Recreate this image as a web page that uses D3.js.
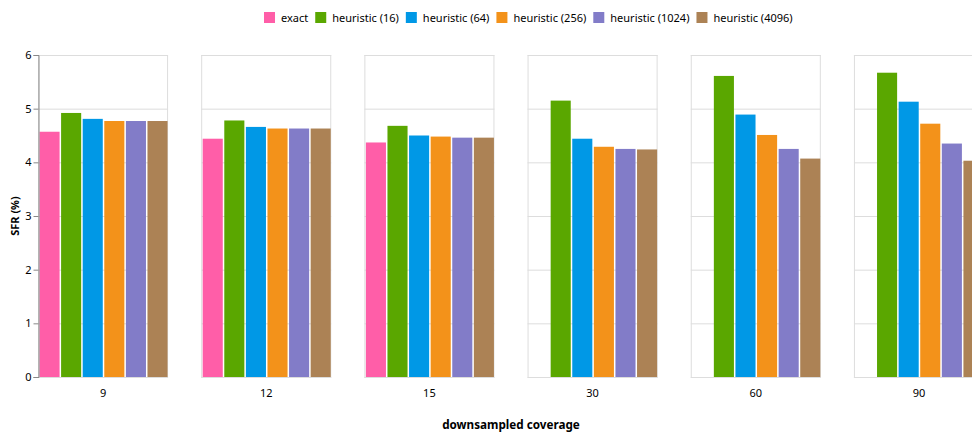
<!DOCTYPE html>
<html><head><meta charset="utf-8">
<script src="https://cdn.jsdelivr.net/npm/d3@7"></script>
<style>body{margin:0;background:#fff}svg{display:block;font-family:"Noto Sans","Open Sans",sans-serif}</style>
</head><body><svg id="c" width="972" height="432"></svg>
<script>
const coverages = ["9","12","15","30","60","90"];
const seriesNames = ["exact","heuristic (16)","heuristic (64)","heuristic (256)","heuristic (1024)","heuristic (4096)"];
const colors = ["#ff5ea8","#5aa700","#0098e6","#f3921a","#827cc8","#ac8255"];
const exact =      [4.57, 4.44, 4.37, null, null, null];
const heur16 =     [4.92, 4.78, 4.68, 5.15, 5.61, 5.67];
const heur64 =     [4.81, 4.66, 4.50, 4.44, 4.89, 5.13];
const heur256 =    [4.77, 4.63, 4.48, 4.29, 4.51, 4.72];
const heur1024 =   [4.77, 4.63, 4.46, 4.25, 4.25, 4.35];
const heur4096 =   [4.77, 4.63, 4.46, 4.24, 4.07, 4.03];
const yTicks = [0,1,2,3,4,5,6];
const seriesValues = [exact, heur16, heur64, heur256, heur1024, heur4096];

(function(){
const svg = d3.select("#c");
const plotTop = 55, plotBottom = 377;
const y = d3.scaleLinear().domain([0,6]).range([plotBottom, plotTop]);
const fx = d3.scaleBand().domain(coverages).range([38, 984]).paddingInner(0.203);
const bw = fx.bandwidth();
const xi = d3.scaleBand().domain(seriesNames).range([1.5, bw-0.5]).paddingInner(0.07);

const rows = [];
coverages.forEach((c,i)=>seriesNames.forEach((s,j)=>{
  const v = seriesValues[j][i];
  if (v!=null) rows.push({c, s, v, col: colors[j]});
}));

coverages.forEach(c=>{
  const g = svg.append("g").attr("transform",`translate(${fx(c)},0)`);
  g.selectAll("line.grid").data(yTicks).join("line")
    .attr("x1",0).attr("x2",bw).attr("y1",d=>y(d)+0.5).attr("y2",d=>y(d)+0.5)
    .attr("stroke","#ddd").attr("stroke-width",1);
  g.append("rect").attr("x",0.5).attr("y",plotTop+0.5).attr("width",bw-1).attr("height",plotBottom-plotTop)
    .attr("fill","none").attr("stroke","#ddd");
  g.selectAll("rect.bar").data(rows.filter(r=>r.c===c)).join("rect")
    .attr("x",d=>xi(d.s)).attr("width",xi.bandwidth())
    .attr("y",d=>y(d.v)).attr("height",d=>y(0)-y(d.v)).attr("fill",d=>d.col);
  g.append("text").attr("x",bw/2).attr("y",397).attr("text-anchor","middle")
    .attr("font-size",11).attr("fill","#000").text(c);
});

const ax = svg.append("g").attr("transform",`translate(${fx(coverages[0])+0.5},0)`)
  .call(d3.axisLeft(y).tickValues(yTicks).tickSize(5).tickPadding(2).tickFormat(d3.format("d")));
ax.select(".domain").attr("stroke","#888");
ax.selectAll(".tick line").attr("stroke","#888");
ax.selectAll("text").attr("font-size",11).attr("fill","#000").attr("font-family","Noto Sans, sans-serif");

svg.append("text").attr("transform","translate(19,216) rotate(-90)").attr("text-anchor","middle")
  .attr("font-size",11).attr("font-weight","bold").text("SFR (%)");
svg.append("text").attr("x",511).attr("y",429).attr("text-anchor","middle")
  .attr("font-size",11.7).attr("font-weight","bold").text("downsampled coverage");

const leg = svg.append("g");
let lx = 264;
seriesNames.forEach((s,j)=>{
  leg.append("rect").attr("x",lx).attr("y",12).attr("width",11).attr("height",11).attr("fill",colors[j]);
  const t = leg.append("text").attr("x",lx+17).attr("y",21.5).attr("font-size",11).attr("fill","#000").text(s);
  lx = lx + 17 + t.node().getComputedTextLength() + 7;
});
})();
</script></body></html>
